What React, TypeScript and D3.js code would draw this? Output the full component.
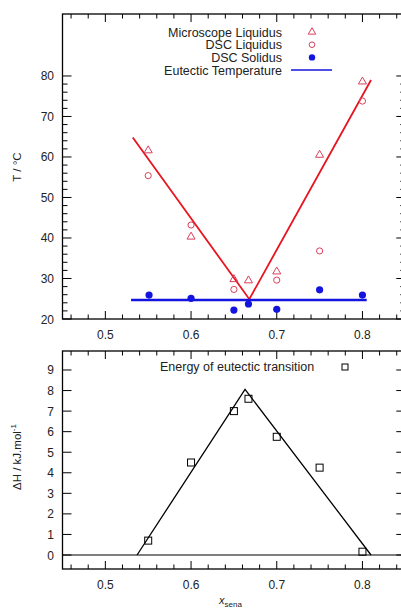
import React from 'react';
import * as d3 from 'd3';

const microX = [0.55, 0.6, 0.65, 0.667, 0.7, 0.75, 0.8];
const microT = [61.6, 40.3, 29.8, 29.5, 31.7, 60.5, 78.6];
const dscLiqX = [0.55, 0.6, 0.65, 0.7, 0.75, 0.8];
const dscLiqT = [55.4, 43.2, 27.3, 29.6, 36.8, 73.8];
const dscSolX = [0.551, 0.6, 0.65, 0.667, 0.7, 0.75, 0.8];
const dscSolT = [25.9, 25.1, 22.2, 23.7, 22.4, 27.2, 25.9];
const liqLineX = [0.532, 0.668, 0.81];
const liqLineT = [64.8, 24.9, 79.0];
const eutX = [0.53, 0.805];
const eutT = [24.7, 24.7];
const energyX = [0.55, 0.6, 0.65, 0.667, 0.7, 0.75, 0.8];
const energyH = [0.7, 4.5, 7.0, 7.6, 5.75, 4.25, 0.16];
const energyLineX = [0.537, 0.663, 0.81];
const energyLineH = [0, 8.06, 0];
const xTickLabels = ['0.5', '0.6', '0.7', '0.8'];
const xTicks = [0.5, 0.6, 0.7, 0.8];
const tTicks = [20, 30, 40, 50, 60, 70, 80];
const hTicks = [0, 1, 2, 3, 4, 5, 6, 7, 8, 9];
const legendTop = ['Microscope Liquidus', 'DSC Liquidus', 'DSC Solidus', 'Eutectic Temperature'];

const RED = '#e8141e';
const PINK = '#d8405c';
const BLUE = '#1414e0';
const FONT = 'Liberation Sans, Arial, sans-serif';

export default function App() {
  const W = 401, H = 609;
  const L = 62.5, R = 405.3;
  const x = d3.scaleLinear().domain([0.45, 0.85]).range([L, R]);
  const yT = d3.scaleLinear().domain([20, 95.3]).range([319, 14]);
  const yH = d3.scaleLinear().domain([-0.681, 9.924]).range([569, 351]);

  const minorX = d3.range(0.46, 0.85, 0.02).map((v) => +v.toFixed(2));
  const minorT = d3.range(20, 81, 2);

  const tri = d3.symbol(d3.symbolTriangle, 28)() as string;
  const triLeg = d3.symbol(d3.symbolTriangle, 24)() as string;
  const lineT = d3.line<number>().x((d, i) => x(liqLineX[i])).y((d) => yT(d));
  const lineE = d3.line<number>().x((d, i) => x(eutX[i])).y((d) => yT(d));
  const lineH = d3.line<number>().x((d, i) => x(energyLineX[i])).y((d) => yH(d));

  const frame = (top: number, bottom: number) => (
    <rect x={L} y={top} width={R - L} height={bottom - top} fill="none" stroke="#000" strokeWidth={1.3} />
  );

  const xAxisTicks = (top: number, bottom: number) => (
    <g stroke="#000" strokeWidth={1}>
      {minorX.map((v) => {
        const major = xTicks.some((t) => Math.abs(t - v) < 1e-6);
        const len = major ? 8 : 4.5;
        return (
          <g key={v}>
            <line x1={x(v)} x2={x(v)} y1={bottom} y2={bottom - len} />
            <line x1={x(v)} x2={x(v)} y1={top} y2={top + len} />
          </g>
        );
      })}
    </g>
  );

  const xLabels = (yy: number) => (
    <g fontFamily={FONT} fontSize={12} fill="#222" textAnchor="middle">
      {xTicks.map((v, i) => (
        <text key={v} x={x(v)} y={yy}>{xTickLabels[i]}</text>
      ))}
    </g>
  );

  return (
    <svg width={W} height={H} style={{ position: 'absolute', left: 0, top: 0, display: 'block' }}>
      <rect x={0} y={0} width={W} height={H} fill="#fff" />
      {/* ---------- Top panel ---------- */}
      {frame(14, 319)}
      {xAxisTicks(14, 319)}
      <g stroke="#000" strokeWidth={1}>
        {minorT.map((v) => {
          const major = v % 10 === 0;
          const len = major ? 9 : 5;
          return (
            <g key={v}>
              <line x1={L} x2={L + len} y1={yT(v)} y2={yT(v)} />
              <line x1={R} x2={R - len} y1={yT(v)} y2={yT(v)} />
            </g>
          );
        })}
      </g>
      <g fontFamily={FONT} fontSize={12} fill="#222" textAnchor="end">
        {tTicks.map((v) => (
          <text key={v} x={54} y={yT(v) + 4.5}>{v}</text>
        ))}
      </g>
      {xLabels(339)}
      <text transform={`translate(21,167) rotate(-90)`} textAnchor="middle" fontFamily={FONT} fontSize={11.5} fill="#222">T / °C</text>

      {/* lines */}
      <path d={lineT(liqLineT) as string} fill="none" stroke={RED} strokeWidth={1.8} />
      <path d={lineE(eutT) as string} fill="none" stroke={BLUE} strokeWidth={2.6} />

      {/* markers */}
      {microX.map((v, i) => (
        <path key={'m' + i} d={tri} transform={`translate(${x(v)},${yT(microT[i])})`} fill="none" stroke={PINK} strokeWidth={1} />
      ))}
      {dscLiqX.map((v, i) => (
        <circle key={'c' + i} cx={x(v)} cy={yT(dscLiqT[i])} r={3.1} fill="none" stroke={PINK} strokeWidth={1} />
      ))}
      {dscSolX.map((v, i) => (
        <circle key={'s' + i} cx={x(v)} cy={yT(dscSolT[i])} r={3.6} fill={BLUE} />
      ))}

      {/* legend */}
      <g fontFamily={FONT} fontSize={12.5} fill="#222" textAnchor="end">
        {legendTop.map((t, i) => (
          <text key={t} x={282} y={32 + i * 12.7 + 4.5}>{t}</text>
        ))}
      </g>
      <path d={triLeg} transform="translate(312,32)" fill="none" stroke={PINK} strokeWidth={1} />
      <circle cx={312} cy={44.7} r={2.8} fill="none" stroke={PINK} strokeWidth={1} />
      <circle cx={312} cy={57.4} r={3.2} fill={BLUE} />
      <line x1={291} x2={332} y1={70} y2={70} stroke={BLUE} strokeWidth={1.5} />

      {/* ---------- Bottom panel ---------- */}
      {frame(351, 569)}
      {xAxisTicks(351, 569)}
      <g stroke="#000" strokeWidth={1}>
        {hTicks.map((v) => (
          <g key={v}>
            <line x1={L} x2={L + 9} y1={yH(v)} y2={yH(v)} />
            <line x1={R} x2={R - 9} y1={yH(v)} y2={yH(v)} />
          </g>
        ))}
      </g>
      <g fontFamily={FONT} fontSize={12} fill="#222" textAnchor="end">
        {hTicks.map((v) => (
          <text key={v} x={54} y={yH(v) + 4.5}>{v}</text>
        ))}
      </g>
      {xLabels(589)}
      <line x1={L} x2={R} y1={yH(0)} y2={yH(0)} stroke="#000" strokeWidth={1.2} />
      <path d={lineH(energyLineH) as string} fill="none" stroke="#000" strokeWidth={1.3} />
      {energyX.map((v, i) => (
        <rect key={'e' + i} x={x(v) - 3.5} y={yH(energyH[i]) - 3.5} width={7} height={7} fill="none" stroke="#000" strokeWidth={1} />
      ))}
      <text x={160} y={371} fontFamily={FONT} fontSize={12.5} fill="#222">Energy of eutectic transition</text>
      <rect x={342} y={364} width={6} height={6} fill="none" stroke="#000" strokeWidth={1} />

      <text transform={`translate(21,457) rotate(-90)`} textAnchor="middle" fontFamily={FONT} fontSize={11.5} fill="#222">
        ΔH / kJ.mol<tspan dy={-5} fontSize={8}>-1</tspan>
      </text>
      <text x={219} y={604} fontFamily={FONT} fontSize={11} fill="#222">
        <tspan fontStyle="italic">x</tspan>
        <tspan dy={3} fontSize={8}>sena</tspan>
      </text>
    </svg>
  );
}
